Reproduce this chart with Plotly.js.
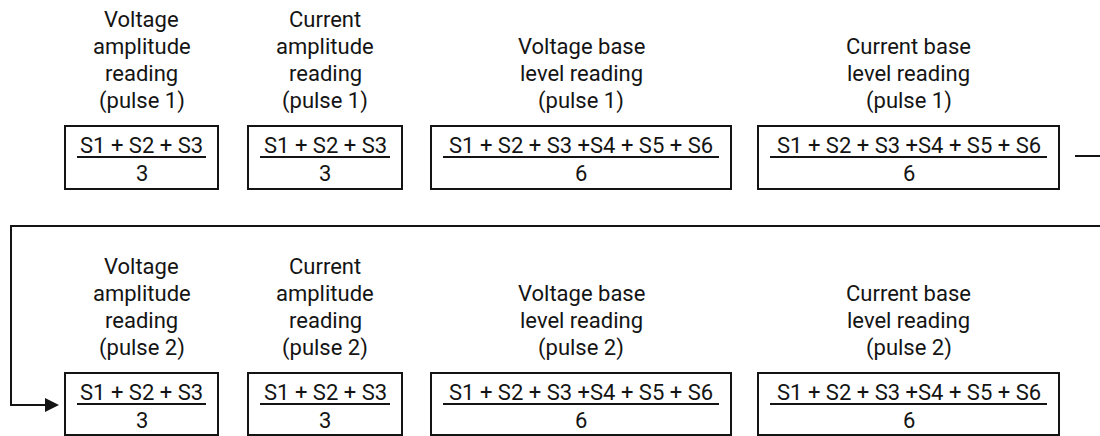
<!DOCTYPE html>
<html>
<head>
<meta charset="utf-8">
<script src="https://cdn.plot.ly/plotly-3.0.1.min.js"></script>
<style>html,body{margin:0;padding:0;background:#fff;}#chart{width:1100px;height:436px;}</style>
</head>
<body>
<div id="chart"></div>
<script>
// ---- data ----
const quantities = ["Voltage amplitude", "Current amplitude", "Voltage base level", "Current base level"];
const titleLines = [
  ["Voltage", "amplitude", "reading"],
  ["Current", "amplitude", "reading"],
  ["Voltage base", "level reading"],
  ["Current base", "level reading"]
];
const pulses = [1, 2];
const numerators = ["S1 + S2 + S3", "S1 + S2 + S3", "S1 + S2 + S3 +S4 + S5 + S6", "S1 + S2 + S3 +S4 + S5 + S6"];
const denominators = ["3", "3", "6", "6"];

// ---- layout geometry ----
const colX = [[65, 218], [248, 402], [431, 731], [758, 1059]];
const rowBoxTop = [126, 373];
const rowBoxBottom = [189, 435];
const lastTitleLineY = [101, 348];
const lineGap = 27.3;
const ink = "#141414";
const FONT = "Roboto, 'Open Sans', sans-serif";

const shapes = [];
const annotations = [];

pulses.forEach((p, r) => {
  quantities.forEach((q, c) => {
    const [x0, x1] = colX[c];
    const y0 = rowBoxTop[r], y1 = rowBoxBottom[r];
    const cx = (x0 + x1) / 2;
    shapes.push({type: "rect", xref: "x", yref: "y", x0: x0, x1: x1, y0: y0, y1: y1,
      line: {color: ink, width: 2}, fillcolor: "rgba(0,0,0,0)"});
    shapes.push({type: "line", xref: "x", yref: "y", x0: x0 + 12, x1: x1 - 12, y0: y0 + 31, y1: y0 + 31,
      line: {color: ink, width: 2}});
    annotations.push({xref: "x", yref: "y", x: cx, y: y0 + 19, text: numerators[c], showarrow: false,
      xanchor: "center", yanchor: "middle", font: {family: FONT, size: 22, color: ink}});
    annotations.push({xref: "x", yref: "y", x: cx, y: y0 + 47, text: denominators[c], showarrow: false,
      xanchor: "center", yanchor: "middle", font: {family: FONT, size: 22, color: ink}});
    const lines = titleLines[c].concat(["(pulse " + p + ")"]);
    lines.forEach((t, i) => {
      const k = lines.length - 1 - i;
      annotations.push({xref: "x", yref: "y", x: cx, y: lastTitleLineY[r] - k * lineGap, text: t, showarrow: false,
        xanchor: "center", yanchor: "middle", align: "center", font: {family: FONT, size: 22, color: ink}});
    });
  });
});

// connector from row 1 to row 2
shapes.push({type: "line", xref: "x", yref: "y", x0: 1075, x1: 1100, y0: 156, y1: 156, line: {color: ink, width: 2}});
shapes.push({type: "path", xref: "x", yref: "y", path: "M 1100 226 L 11 226 L 11 405 L 50 405",
  line: {color: ink, width: 2}, fillcolor: "rgba(0,0,0,0)"});
annotations.push({xref: "x", yref: "y", axref: "x", ayref: "y", x: 59, y: 405, ax: 40, ay: 405, text: "",
  showarrow: true, arrowhead: 2, arrowsize: 1.4, arrowwidth: 2, arrowcolor: ink, standoff: 0, startstandoff: 0});

const layout = {
  width: 1100, height: 436,
  margin: {l: 0, r: 0, t: 0, b: 0, pad: 0},
  paper_bgcolor: "#ffffff", plot_bgcolor: "#ffffff",
  xaxis: {range: [0, 1100], visible: false, fixedrange: true},
  yaxis: {range: [436, 0], visible: false, fixedrange: true},
  showlegend: false,
  shapes: shapes,
  annotations: annotations
};

Plotly.newPlot("chart", [], layout, {staticPlot: true, displayModeBar: false});
</script>
</body>
</html>
